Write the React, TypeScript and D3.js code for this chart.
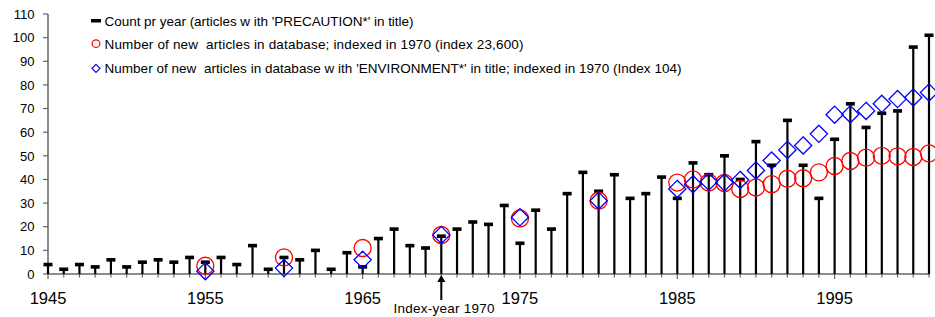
import React from 'react';
import * as d3 from 'd3';

const years = [
  1945, 1946, 1947, 1948, 1949, 1950, 1951, 1952, 1953, 1954,
  1955, 1956, 1957, 1958, 1959, 1960, 1961, 1962, 1963, 1964,
  1965, 1966, 1967, 1968, 1969, 1970, 1971, 1972, 1973, 1974,
  1975, 1976, 1977, 1978, 1979, 1980, 1981, 1982, 1983, 1984,
  1985, 1986, 1987, 1988, 1989, 1990, 1991, 1992, 1993, 1994,
  1995, 1996, 1997, 1998, 1999, 2000, 2001,
];
// count per year, articles with 'PRECAUTION*' in title
const counts = [
  4, 2, 4, 3, 6, 3, 5, 6, 5, 7,
  5, 7, 4, 12, 2, 7, 6, 10, 2, 9,
  3, 15, 19, 12, 11, 16, 19, 22, 21, 29,
  13, 27, 19, 34, 43, 35, 42, 32, 34, 41,
  32, 47, 42, 50, 40, 56, 46, 65, 46, 32,
  57, 72, 62, 68, 69, 96, 101,
];
const indexYears = [
  1955, 1960, 1965, 1970, 1975, 1980,
  1985, 1986, 1987, 1988, 1989, 1990, 1991, 1992, 1993, 1994,
  1995, 1996, 1997, 1998, 1999, 2000, 2001,
];
// new articles in database, indexed 1970
const allArticles = [
  3.5, 7, 11, 16.5, 23.5, 31,
  38.7, 40, 38.7, 38.5, 36, 36.6, 38, 40.3, 40.5, 43,
  45.7, 47.8, 49.2, 50, 49.8, 49.5, 51,
];
// new articles with 'ENVIRONMENT*' in title, indexed 1970
const envArticles = [
  1.2, 2.5, 6, 16.5, 24, 31,
  36, 38, 39, 38.7, 39.8, 43.8, 48, 52.5, 54.4, 59.3,
  67.4, 67.6, 69, 72, 74, 74.7, 76.8,
];
const yTicks = [0, 10, 20, 30, 40, 50, 60, 70, 80, 90, 100, 110];
const xLabels = [1945, 1955, 1965, 1975, 1985, 1995];
const indexYear = 1970;

const legendItems = [
  "Count pr year (articles w ith 'PRECAUTION*' in title)",
  'Number of new  articles in database; indexed in 1970 (index 23,600)',
  "Number of new  articles in database w ith 'ENVIRONMENT*' in title; indexed in 1970 (Index 104)",
];

const W = 935;
const H = 317;
const font = "'Liberation Sans', Arial, sans-serif";

export default function App() {
  const x = d3.scaleLinear().domain([1945, 2001]).range([48, 929]);
  const y = d3.scaleLinear().domain([0, 110]).range([274, 14]);
  const axisColor = '#666';

  const diamond = (cx: number, cy: number, r: number) =>
    `M${cx},${cy - r}L${cx + r},${cy}L${cx},${cy + r}L${cx - r},${cy}Z`;

  const legendY = [25.7, 48.7, 73.2];
  const legendLen = [309, 419, 577];

  return (
    <svg width={W} height={H} style={{ position: 'absolute', left: 0, top: 0, background: '#fff' }} fontFamily={font}>
      {/* axes */}
      <line x1={x(1945)} x2={x(1945)} y1={y(110)} y2={y(0)} stroke={axisColor} strokeWidth={1.5} />
      <line x1={x(1945)} x2={x(2001) + 1} y1={y(0)} y2={y(0)} stroke={axisColor} strokeWidth={1.5} />
      {yTicks.map((t) => (
        <g key={`yt-${t}`}>
          <line x1={x(1945) - 5} x2={x(1945)} y1={y(t)} y2={y(t)} stroke={axisColor} strokeWidth={1.2} />
          <text x={34.5} y={y(t) + 4.7} textAnchor="end" fontSize={13} fill="#000">
            {t}
          </text>
        </g>
      ))}
      {years.map((yr) => (
        <line
          key={`xt-${yr}`}
          x1={x(yr)}
          x2={x(yr)}
          y1={y(0)}
          y2={y(0) + (xLabels.includes(yr) ? 5 : 3.5)}
          stroke={axisColor}
          strokeWidth={1.2}
        />
      ))}
      {xLabels.map((yr) => (
        <text key={`xl-${yr}`} x={x(yr)} y={304} textAnchor="middle" fontSize={16.5} fill="#000">
          {yr}
        </text>
      ))}

      {/* count bars */}
      {years.map((yr, i) => (
        <g key={`bar-${yr}`}>
          <line x1={x(yr)} x2={x(yr)} y1={y(0)} y2={y(counts[i])} stroke="#000" strokeWidth={2.2} />
          <rect x={x(yr) - 4.5} y={y(counts[i]) - 1.8} width={9} height={3.6} fill="#000" />
        </g>
      ))}

      {/* indexed series */}
      {indexYears.map((yr, i) => (
        <circle
          key={`c-${yr}`}
          cx={x(yr)}
          cy={y(allArticles[i])}
          r={8.5}
          fill="none"
          stroke="#ff0000"
          strokeWidth={1.3}
        />
      ))}
      {indexYears.map((yr, i) => (
        <path key={`d-${yr}`} d={diamond(x(yr), y(envArticles[i]), 8.6)} fill="none" stroke="#0000ff" strokeWidth={1.3} />
      ))}

      {/* index-year marker */}
      <line x1={x(indexYear)} x2={x(indexYear)} y1={281} y2={300} stroke="#000" strokeWidth={2} />
      <path d={`M${x(indexYear)},${275}L${x(indexYear) + 4},${282}L${x(indexYear) - 4},${282}Z`} fill="#000" />
      <text x={393.5} y={313} fontSize={13.5} fill="#000" textLength={101} lengthAdjust="spacing">
        Index-year 1970
      </text>

      {/* legend */}
      <rect x={91} y={19} width={10} height={3.5} fill="#000" />
      <circle cx={96} cy={43.7} r={3.8} fill="none" stroke="#ff0000" strokeWidth={1.2} />
      <path d={diamond(96, 68.3, 4)} fill="none" stroke="#0000ff" strokeWidth={1.2} />
      {legendItems.map((txt, i) => (
        <text
          key={`lg-${i}`}
          x={104.5}
          y={legendY[i]}
          fontSize={13.5}
          fill="#000"
          textLength={legendLen[i]}
          lengthAdjust="spacing"
          style={{ whiteSpace: 'pre' }}
        >
          {txt}
        </text>
      ))}
    </svg>
  );
}
